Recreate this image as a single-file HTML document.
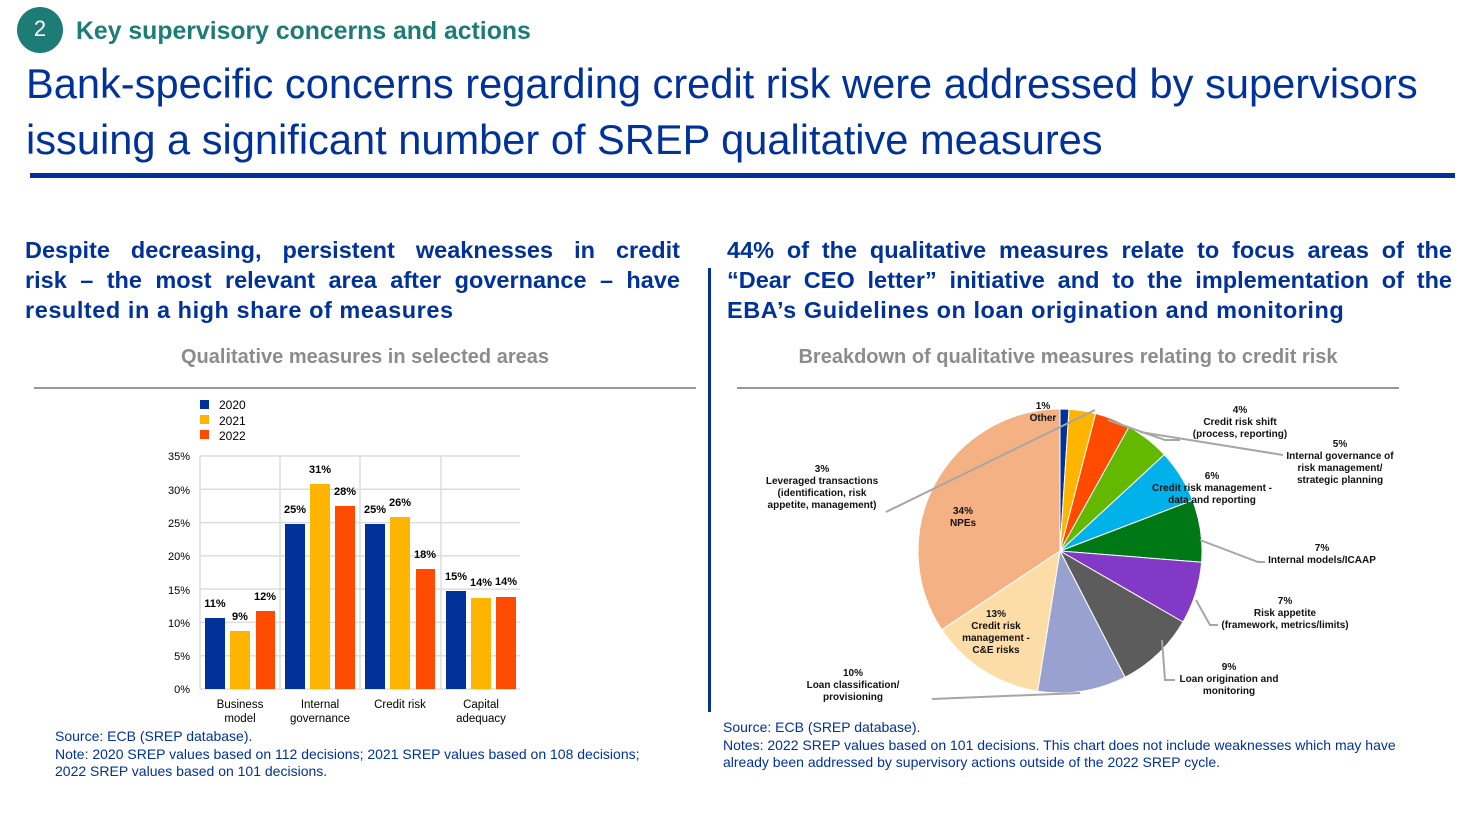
<!DOCTYPE html>
<html><head><meta charset="utf-8"><style>
body{margin:0;width:1473px;height:829px;background:#fff;position:relative;overflow:hidden;font-family:"Liberation Sans",Arial,sans-serif}
.a{position:absolute}
.sub{font-weight:bold;font-size:23.5px;color:#003299;line-height:30px}
.j{text-align:justify;text-align-last:justify;white-space:nowrap}
.src{font-size:14px;color:#003299;line-height:17.5px}
.ct{font-weight:bold;font-size:20px;color:#8c8c8c;text-align:center}
</style></head><body>
<div class="a" style="left:17px;top:7px;width:46px;height:46px;border-radius:50%;background:#1d7c75;color:#fff;font-size:22px;text-align:center;line-height:44px">2</div>
<div class="a" style="left:76px;top:18px;font-size:24.8px;font-weight:bold;color:#1d7c75">Key supervisory concerns and actions</div>
<div class="a" style="left:26px;top:56px;font-size:41.6px;color:#003299;line-height:56px;white-space:nowrap">Bank-specific concerns regarding credit risk were addressed by supervisors<br>issuing a significant number of SREP qualitative measures</div>
<div class="a" style="left:30px;top:173px;width:1425px;height:5px;background:#003299"></div>
<div class="a sub" style="left:25px;top:235px;width:655px">
<div class="j">Despite decreasing, persistent weaknesses in credit</div>
<div class="j">risk – the most relevant area after governance – have</div>
<div style="letter-spacing:0.55px">resulted in a high share of measures</div></div>
<div class="a sub" style="left:727px;top:235px;width:725px">
<div class="j">44% of the qualitative measures relate to focus areas of the</div>
<div class="j">“Dear CEO letter” initiative and to the implementation of the</div>
<div style="letter-spacing:0.55px">EBA’s Guidelines on loan origination and monitoring</div></div>
<div class="a ct" style="left:34px;top:346px;width:662px">Qualitative measures in selected areas</div>
<div class="a ct" style="left:737px;top:346px;width:662px">Breakdown of qualitative measures relating to credit risk</div>
<div class="a" style="left:34px;top:387px;width:662px;height:2px;background:#999"></div>
<div class="a" style="left:737px;top:387px;width:662px;height:2px;background:#999"></div>
<div class="a" style="left:708px;top:268px;width:3px;height:444px;background:#003299"></div>
<div class="a src" style="left:55px;top:728px;width:625px">Source: ECB (SREP database).<br>Note: 2020 SREP values based on 112 decisions; 2021 SREP values based on 108 decisions;<br>2022 SREP values based on 101 decisions.</div>
<div class="a src" style="left:723px;top:719px;width:720px">Source: ECB (SREP database).<br>Notes: 2022 SREP values based on 101 decisions. This chart does not include weaknesses which may have already been addressed by supervisory actions outside of the 2022 SREP cycle.</div>
<svg class="a" style="left:0;top:0" width="1473" height="829" font-family="Liberation Sans,Arial,sans-serif">
<g font-size="12" fill="#000">
<rect x="200" y="400" width="9" height="9" fill="#003299"/><text x="219" y="409">2020</text>
<rect x="200" y="415" width="9" height="9" fill="#FFB400"/><text x="219" y="425">2021</text>
<rect x="200" y="430" width="9" height="9" fill="#FF4B00"/><text x="219" y="440">2022</text>
</g>
<g stroke="#ddd" stroke-width="1.5">
<line x1="200" y1="456" x2="520" y2="456"/><line x1="200" y1="489.3" x2="520" y2="489.3"/><line x1="200" y1="522.6" x2="520" y2="522.6"/><line x1="200" y1="555.9" x2="520" y2="555.9"/><line x1="200" y1="589.1" x2="520" y2="589.1"/><line x1="200" y1="622.4" x2="520" y2="622.4"/><line x1="200" y1="655.7" x2="520" y2="655.7"/><line x1="200" y1="689" x2="520" y2="689"/>
<line x1="200" y1="456" x2="200" y2="689"/><line x1="280" y1="456" x2="280" y2="689"/><line x1="360" y1="456" x2="360" y2="689"/><line x1="441" y1="456" x2="441" y2="689"/>
</g>
<g font-size="11" text-anchor="end" fill="#000">
<text x="190" y="460">35%</text><text x="190" y="494">30%</text><text x="190" y="527">25%</text><text x="190" y="560">20%</text><text x="190" y="594">15%</text><text x="190" y="627">10%</text><text x="190" y="660">5%</text><text x="190" y="693">0%</text>
</g>
<g>
<rect x="205" y="618" width="20" height="71" fill="#003299"/><rect x="230" y="631" width="20" height="58" fill="#FFB400"/><rect x="256" y="611" width="19" height="78" fill="#FF4B00"/>
<rect x="285" y="524" width="20" height="165" fill="#003299"/><rect x="310" y="484" width="20" height="205" fill="#FFB400"/><rect x="335" y="506" width="20" height="183" fill="#FF4B00"/>
<rect x="365" y="524" width="20" height="165" fill="#003299"/><rect x="390" y="517" width="20" height="172" fill="#FFB400"/><rect x="416" y="569" width="19" height="120" fill="#FF4B00"/>
<rect x="446" y="591" width="20" height="98" fill="#003299"/><rect x="471" y="598" width="20" height="91" fill="#FFB400"/><rect x="496" y="597" width="20" height="92" fill="#FF4B00"/>
</g>
<g font-size="11" font-weight="bold" text-anchor="middle" fill="#000">
<text x="215" y="607">11%</text><text x="240" y="620">9%</text><text x="265" y="600">12%</text>
<text x="295" y="513">25%</text><text x="320" y="473">31%</text><text x="345" y="495">28%</text>
<text x="375" y="513">25%</text><text x="400" y="506">26%</text><text x="425" y="558">18%</text>
<text x="456" y="580">15%</text><text x="481" y="586">14%</text><text x="506" y="585">14%</text>
</g>
<g font-size="11.5" text-anchor="middle" fill="#000">
<text x="240" y="708">Business</text><text x="240" y="722">model</text>
<text x="320" y="708">Internal</text><text x="320" y="722">governance</text>
<text x="400" y="708">Credit risk</text>
<text x="481" y="708">Capital</text><text x="481" y="722">adequacy</text>
</g>
<g id="pie"></g>
<g stroke="#a6a6a6" stroke-width="2" fill="none">
<polyline points="886,512 1095,410"/>
<polyline points="1108,420 1165,440 1180,440"/>
<polyline points="1140,432 1283,455"/>
<polyline points="1200,540 1258,562 1265,562"/>
<polyline points="1196,600 1210,625 1218,625"/>
<polyline points="1162,640 1165,680 1175,680"/>
<polyline points="1080,693 932,699"/>
</g>
<g font-size="10" text-anchor="middle" fill="#111" style="font-weight:600">
<text x="1043" y="409">1%</text><text x="1043" y="421">Other</text>
<text x="1240" y="413">4%</text><text x="1240" y="425">Credit risk shift</text><text x="1240" y="437">(process, reporting)</text>
<text x="1340" y="447">5%</text><text x="1340" y="459">Internal governance of</text><text x="1340" y="471">risk management/</text><text x="1340" y="483">strategic planning</text>
<text x="1212" y="479">6%</text><text x="1212" y="491">Credit risk management -</text><text x="1212" y="503">data and reporting</text>
<text x="822" y="472">3%</text><text x="822" y="484">Leveraged transactions</text><text x="822" y="496">(identification, risk</text><text x="822" y="508">appetite, management)</text>
<text x="963" y="514">34%</text><text x="963" y="526">NPEs</text>
<text x="1322" y="551">7%</text><text x="1322" y="563">Internal models/ICAAP</text>
<text x="1285" y="604">7%</text><text x="1285" y="616">Risk appetite</text><text x="1285" y="628">(framework, metrics/limits)</text>
<text x="996" y="617">13%</text><text x="996" y="629">Credit risk</text><text x="996" y="641">management -</text><text x="996" y="653">C&amp;E risks</text>
<text x="1229" y="670">9%</text><text x="1229" y="682">Loan origination and</text><text x="1229" y="694">monitoring</text>
<text x="853" y="676">10%</text><text x="853" y="688">Loan classification/</text><text x="853" y="700">provisioning</text>
</g>
</svg>
<script>
var v=[1,3,4,5,6,7,7,9,10,13,34],c=["#003299","#FFB400","#FF4B00","#65B800","#00B1EA","#007816","#8139C6","#5C5C5C","#98A1D0","#FDDDA7","#F4B183"];
var cx=1060,cy=551,r=142,t=0,s="",T=99;
function p(a){a=a/T*2*Math.PI;return [cx+r*Math.sin(a),cy-r*Math.cos(a)];}
for(var i=0;i<v.length;i++){var a=p(t),b=p(t+v[i]);var l=v[i]/T>0.5?1:0;
s+='<path d="M'+cx+','+cy+'L'+a[0]+','+a[1]+'A'+r+','+r+' 0 '+l+' 1 '+b[0]+','+b[1]+'Z" fill="'+c[i]+'" stroke="#fff" stroke-width="1"/>';t+=v[i];}
document.getElementById("pie").innerHTML=s;
</script>
</body></html>
